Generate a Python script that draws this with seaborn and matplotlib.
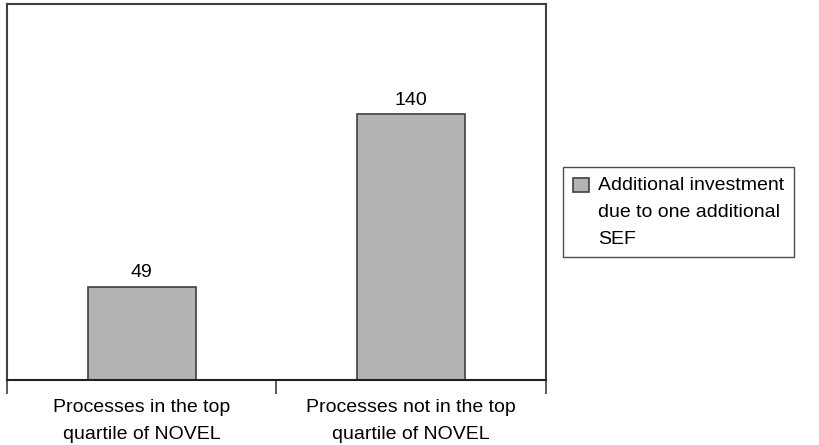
import matplotlib
matplotlib.use('Agg')
import matplotlib.pyplot as plt
import seaborn as sns
from matplotlib.ticker import FixedLocator

categories = ['Processes in the top\nquartile of NOVEL', 'Processes not in the top\nquartile of NOVEL']
values = [49, 140]
series_label = 'Additional investment\ndue to one additional\nSEF'

sns.set_style('white')
plt.rcParams['font.family'] = ['Liberation Sans', 'DejaVu Sans']
plt.rcParams['text.color'] = 'black'
plt.rcParams['xtick.color'] = 'black'
plt.rcParams['xtick.labelcolor'] = 'black'

FS = 14
LS = 1.75

fig = plt.figure(figsize=(8.2, 4.45), dpi=100)
ax = fig.add_axes([0.0085, 0.146, 0.657, 0.845])

sns.barplot(x=categories, y=values, color='#b3b3b3', edgecolor='#404040',
            linewidth=1.2, width=0.4, saturation=1, label=series_label, ax=ax)

ax.bar_label(ax.containers[0], fmt='%d', padding=4, fontsize=FS)

ax.set_ylim(0, 198)
ax.set_xlim(-0.5, 1.5)
ax.set_yticks([])
ax.set_xticks(range(len(categories)), categories, linespacing=LS)
ax.tick_params(axis='x', which='major', length=0, labelsize=FS, pad=13.5)
ax.xaxis.set_minor_locator(FixedLocator([-0.5, 0.5, 1.5]))
ax.tick_params(axis='x', which='minor', length=10, width=1.2, color='#404040',
               direction='out', bottom=True)

for s in ax.spines.values():
    s.set_color('#404040')
    s.set_linewidth(1.5)
ax.spines['bottom'].set_color('#202020')

leg = ax.legend(loc='upper left', bbox_to_anchor=(0.687, 0.624), bbox_transform=fig.transFigure,
                frameon=True, fancybox=False, edgecolor='#202020', fontsize=FS,
                handlelength=0.8, handleheight=0.8, handletextpad=0.5, borderpad=0.5,
                borderaxespad=0)
leg.get_frame().set_linewidth(1.0)
for t in leg.get_texts():
    t.set_linespacing(LS)
# put the swatch beside the first line of the label
h = leg.legend_handles[0]
h.set_y(h.get_y() + 19.5)

fig.savefig('out.png', dpi=100)
